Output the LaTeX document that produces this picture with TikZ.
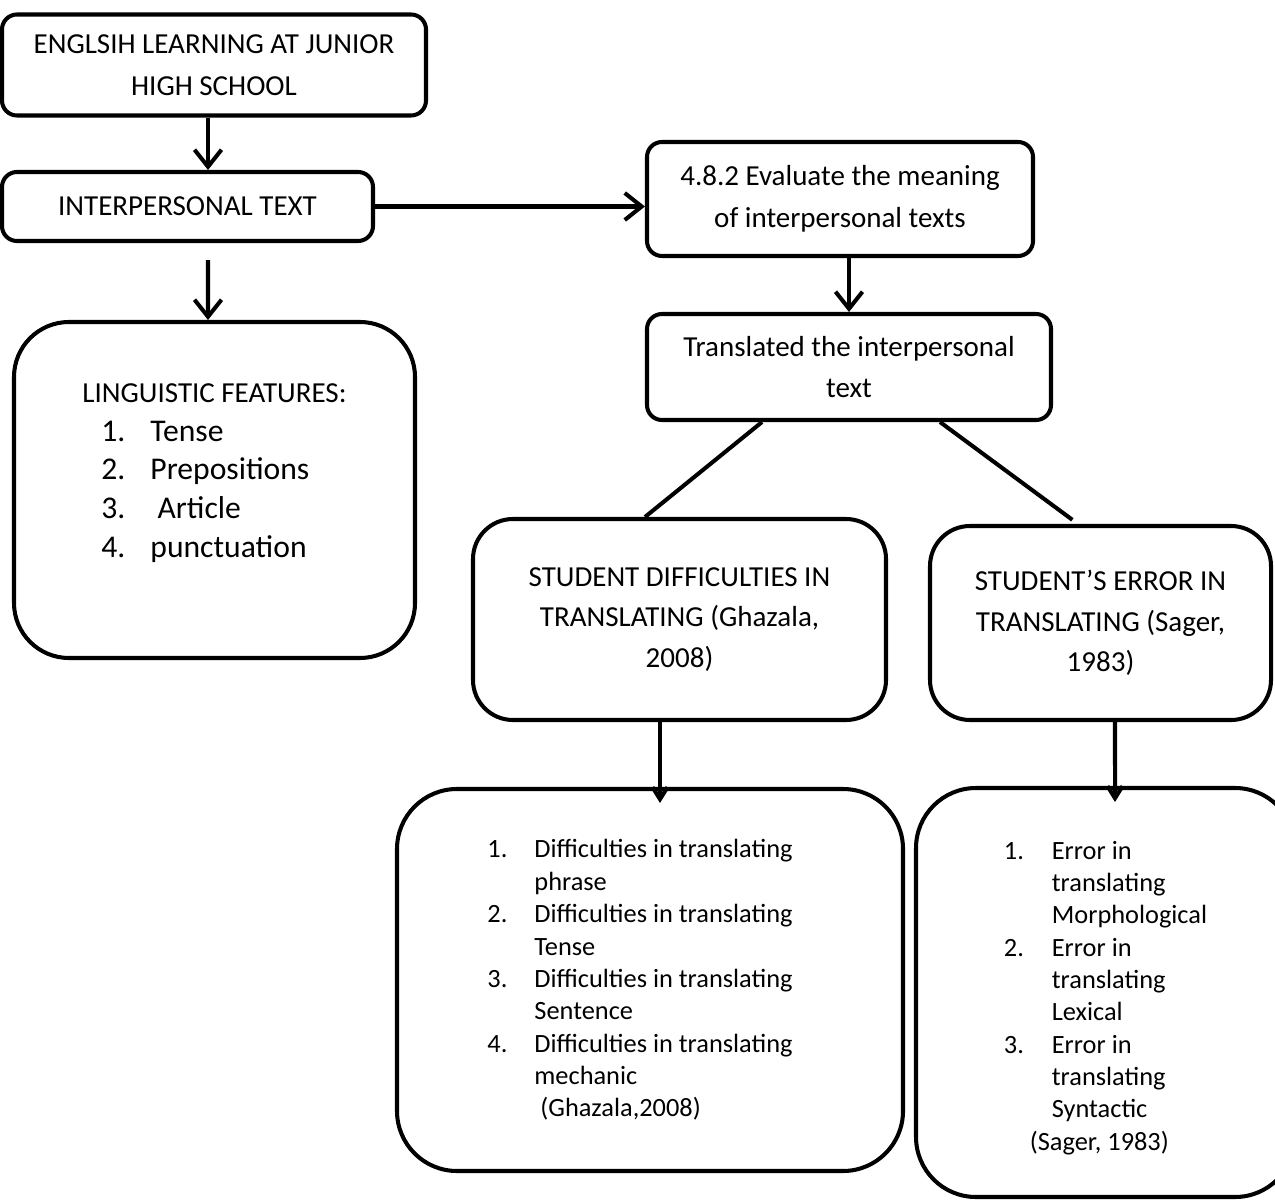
\documentclass[tikz,border=0pt]{standalone}
\usepackage{fontspec}
\setmainfont{Carlito}
\usepackage{tikz}
\usetikzlibrary{arrows.meta, positioning}
\tikzstyle{block} = [rectangle, rounded corners=0.3cm, draw=black, line width=2.3pt, align=center, inner sep=0pt, font=\fontsize{16.5}{23.8}\selectfont]
\tikzstyle{roundblock} = [block, rounded corners=0.8cm, font=\fontsize{16.5}{23.2}\selectfont]
\tikzstyle{listblock} = [block, rounded corners=1.2cm, align=left, font=\fontsize{15}{18.4}\selectfont]
\tikzstyle{arrow} = [line width=2.3pt, -{Straight Barb[length=0.34cm, width=0.54cm]}]
\tikzstyle{smallarrow} = [line width=2.3pt, -{Straight Barb[length=0.24cm, width=0.3cm]}]
\tikzstyle{link} = [line width=2.3pt]
\newcommand{\numlabel}[2][0.94cm]{\makebox[#1][l]{#2}}

\begin{document}
\begin{tikzpicture}
  \useasboundingbox (0,0) rectangle (25.5,-24);
  \clip (0,0) rectangle (25.5,-24);

  \node[block, minimum width=8.48cm, minimum height=2.02cm] (eng) at (4.28,-1.30) {ENGLSIH LEARNING AT JUNIOR\\HIGH SCHOOL};
  \node[block, minimum width=7.42cm, minimum height=1.38cm] (inter) at (3.75,-4.13) {INTERPERSONAL TEXT};
  \node[block, minimum width=7.72cm, minimum height=2.28cm] (eval) at (16.8,-3.98) {4.8.2 Evaluate the meaning\\of interpersonal texts};
  \node[block, minimum width=8.08cm, minimum height=2.12cm] (trans) at (16.98,-7.34) {Translated the interpersonal\\text};
  \node[block, rounded corners=1.1cm, align=left, minimum width=8.02cm, minimum height=6.72cm, font=\fontsize{18}{22.1}\selectfont] (ling) at (4.29,-9.8) {%
    {\fontsize{16.5}{22.1}\selectfont LINGUISTIC FEATURES:}\\
    \hspace*{0.38cm}\numlabel[0.98cm]{1.}Tense\\
    \hspace*{0.38cm}\numlabel[0.98cm]{2.}Prepositions\\
    \hspace*{0.38cm}\numlabel[0.98cm]{3.}\ Article\\
    \hspace*{0.38cm}\numlabel[0.98cm]{4.}punctuation\\
    \mbox{}};
  \node[roundblock, minimum width=8.26cm, minimum height=4.02cm] (diff) at (13.59,-12.39) {STUDENT DIFFICULTIES IN\\TRANSLATING (Ghazala,\\2008)};
  \node[roundblock, minimum width=6.82cm, minimum height=3.88cm] (err) at (22.01,-12.46) {STUDENT’S ERROR IN\\TRANSLATING (Sager,\\1983)};
  \node[listblock, minimum width=10.12cm, minimum height=7.64cm] (difflist) at (13.0,-19.6) {%
    \numlabel{1.}Difficulties in translating\hspace*{0.4cm}\\
    \numlabel{}phrase\\
    \numlabel{2.}Difficulties in translating\\
    \numlabel{}Tense\\
    \numlabel{3.}Difficulties in translating\\
    \numlabel{}Sentence\\
    \numlabel{4.}Difficulties in translating\\
    \numlabel{}mechanic\\
    \numlabel{}\ (Ghazala,2008)};
  \node[listblock, minimum width=7.58cm, minimum height=8.18cm] (errlist) at (22.11,-19.85) {%
    \mbox{}\\[-0.07cm]
    \numlabel[0.96cm]{1.}Error in\\
    \numlabel[0.96cm]{}translating\\
    \numlabel[0.96cm]{}Morphological\\
    \numlabel[0.96cm]{2.}Error in\\
    \numlabel[0.96cm]{}translating\\
    \numlabel[0.96cm]{}Lexical\\
    \numlabel[0.96cm]{3.}Error in\\
    \numlabel[0.96cm]{}translating\\
    \numlabel[0.96cm]{}Syntactic\\
    \hspace*{0.52cm}(Sager, 1983)};

  \draw[arrow] ([xshift=-0.12cm]eng.south) -- ([xshift=0.41cm]inter.north);
  \draw[arrow] (inter.east) -- (inter.east -| eval.west);
  \draw[arrow] (eval.south -| trans.north) -- (trans.north);
  \draw[arrow, shorten <=0.34cm] ([xshift=0.41cm]inter.south) -- ([xshift=-0.13cm]ling.north);
  \draw[link] ([xshift=-1.74cm]trans.south) -- ([xshift=-0.69cm]diff.north);
  \draw[link, shorten >=0.14cm] ([xshift=1.82cm]trans.south) -- ([xshift=-0.45cm]err.north);
  \draw[smallarrow, shorten >=-0.32cm] ([xshift=-0.39cm]diff.south) -- ([xshift=0.2cm]difflist.north);
  \draw[smallarrow, shorten >=-0.32cm] ([xshift=0.29cm]err.south) -- ([xshift=0.19cm]errlist.north);
\end{tikzpicture}
\end{document}
